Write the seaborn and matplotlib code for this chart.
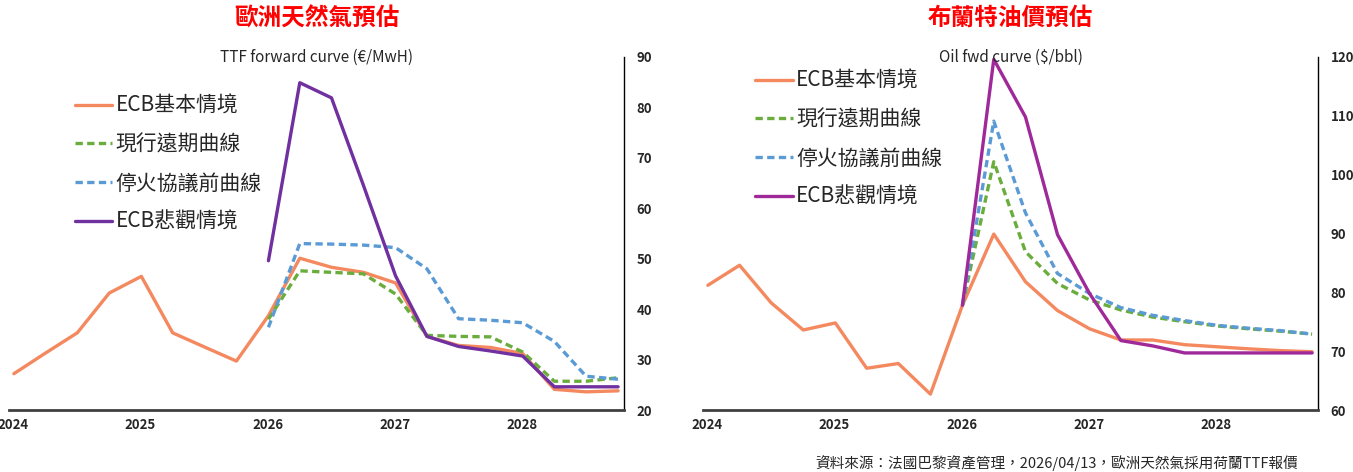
import pandas as pd
import numpy as np
import seaborn as sns
import matplotlib.pyplot as plt
import matplotlib.dates as mdates
import matplotlib.transforms as mtransforms

sns.set_style("white")
plt.rcParams['font.family'] = ['Noto Sans CJK TC', 'DejaVu Sans']

# quarterly points (mid-month of Jan/Apr/Jul/Oct), 2024-2028
dates = pd.to_datetime([f"{y}-{m:02d}-15" for y in range(2024, 2029) for m in (1, 4, 7, 10)])

series_names = ["ECB基本情境", "現行遠期曲線", "停火協議前曲線", "ECB悲觀情境"]

# TTF forward curve (EUR/MWh)
gas_base = [27.2, 31.3, 35.3, 43.2, 46.5, 35.3, 32.5, 29.7, 38.7, 50.1, 48.3, 47.3,
            45.2, 34.6, 32.8, 32.4, 31.2, 24.1, 23.6, 23.8]
gas_fwd = [None] * 8 + [38.0, 47.6, 47.3, 47.0, 43.0, 34.8, 34.6, 34.5,
                        31.5, 25.7, 25.7, 26.4]
gas_pre = [None] * 8 + [36.4, 53.0, 52.9, 52.7, 52.2, 48.0, 38.1, 37.8,
                        37.3, 33.6, 26.7, 26.1]
gas_bad = [None] * 8 + [49.6, 84.9, 81.9, 64.5, 46.6, 34.6, 32.6, 31.7,
                        30.7, 24.6, 24.6, 24.6]

# Brent (USD/bbl)
oil_base = [81.2, 84.6, 78.2, 73.6, 74.8, 67.1, 67.9, 62.7, 77.8, 89.9, 81.8, 76.9,
            73.8, 71.9, 71.9, 71.1, 70.75, 70.4, 70.1, 69.9]
oil_fwd = [None] * 8 + [77.8, 102.2, 86.9, 81.5, 78.7, 77.0, 75.8, 75.0,
                        74.3, 73.8, 73.4, 72.9]
oil_pre = [None] * 8 + [77.8, 109.1, 93.5, 83.2, 79.8, 77.4, 76.1, 75.2,
                        74.4, 73.9, 73.5, 72.9]
oil_bad = [None] * 8 + [77.8, 119.6, 109.8, 89.8, 79.8, 71.8, 70.9, 69.7,
                        69.7, 69.7, 69.7, 69.7]


def to_long(cols):
    frames = []
    for name, vals in zip(series_names, cols):
        frames.append(pd.DataFrame({"date": dates, "value": vals, "series": name}))
    out = pd.concat(frames, ignore_index=True)
    return out.dropna(subset=["value"])


gas_df = to_long([gas_base, gas_fwd, gas_pre, gas_bad])
oil_df = to_long([oil_base, oil_fwd, oil_pre, oil_bad])

dash_map = {series_names[0]: "", series_names[1]: (2.2, 1.3),
            series_names[2]: (2.2, 1.3), series_names[3]: ""}

W, H = 1353, 472
fig = plt.figure(figsize=(W / 100, H / 100), dpi=100)
ax1 = fig.add_axes([9 / W, 1 - 410 / H, (624 - 9) / W, (410 - 57) / H])
ax2 = fig.add_axes([703 / W, 1 - 410 / H, (1318 - 703) / W, (410 - 57) / H])

panels = [
    (ax1, gas_df, "#7030A0", (20, 90), "TTF forward curve (€/MwH)", "歐洲天然氣預估", (0.107, 0.892)),
    (ax2, oil_df, "#A0299A", (60, 120), "Oil fwd curve ($/bbl)", "布蘭特油價預估", (0.085, 0.963)),
]

shift = mtransforms.ScaledTranslation(4 / 100, 0, fig.dpi_scale_trans)

for ax, df, purple, ylim, sub, title, legpos in panels:
    pal = {series_names[0]: "#F4895F", series_names[1]: "#6AAD3D",
           series_names[2]: "#5B9BD5", series_names[3]: purple}
    sns.lineplot(data=df, x="date", y="value", hue="series", style="series",
                 hue_order=series_names, style_order=series_names,
                 palette=pal, dashes=dash_map, linewidth=2.4,
                 estimator=None, ax=ax)
    ax.set_xlim(pd.Timestamp("2024-01-01"), pd.Timestamp("2028-11-01"))
    ax.set_ylim(*ylim)
    ax.set_xlabel("")
    ax.set_ylabel("")
    ax.xaxis.set_major_locator(mdates.YearLocator())
    ax.xaxis.set_major_formatter(mdates.DateFormatter("%Y"))
    ax.yaxis.tick_right()
    ax.tick_params(axis="y", length=0, labelsize=9.5, pad=9)
    ax.tick_params(axis="x", length=4, width=1.2, color="#404040", labelsize=9.5, pad=2)
    for lab in ax.get_xticklabels():
        lab.set_fontweight("bold")
        lab.set_transform(lab.get_transform() + shift)
    for lab in ax.get_yticklabels():
        lab.set_fontweight("bold")
    for s in ("top", "left"):
        ax.spines[s].set_visible(False)
    ax.spines["bottom"].set_color("#404040")
    ax.spines["bottom"].set_linewidth(2)
    ax.spines["right"].set_color("black")
    ax.spines["right"].set_linewidth(1)
    ax.text(0.5, 1.0, sub, transform=ax.transAxes, ha="center", va="center", fontsize=11)
    ax.text(0.5, 1.076, title, transform=ax.transAxes, ha="center", va="bottom",
            fontsize=17, fontweight="bold", color="#FF0000")
    leg = ax.legend(loc="upper left", bbox_to_anchor=legpos, frameon=False,
                    fontsize=15, handlelength=1.8, handletextpad=0.15, labelspacing=0.8,
                    borderpad=0, borderaxespad=0)
    for h in leg.get_lines():
        h.set_linewidth(2.4)

fig.text(1298 / W, 1 - 463 / H, "資料來源：法國巴黎資產管理，2026/04/13，歐洲天然氣採用荷蘭TTF報價",
         ha="right", va="center", fontsize=10.5)

fig.savefig("out.png", dpi=100)
